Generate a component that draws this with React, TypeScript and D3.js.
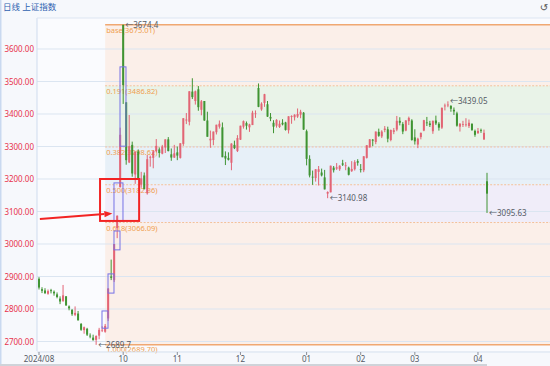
import React from 'react';
import * as d3 from 'd3';

const dates = [
  '2024-08-20','2024-08-21','2024-08-22','2024-08-23','2024-08-26','2024-08-27','2024-08-28','2024-08-29','2024-08-30',
  '2024-09-02','2024-09-03','2024-09-04','2024-09-05','2024-09-06','2024-09-09','2024-09-10','2024-09-11','2024-09-12','2024-09-13',
  '2024-09-18','2024-09-19','2024-09-20','2024-09-23','2024-09-24','2024-09-25','2024-09-26','2024-09-27','2024-09-30',
  '2024-10-08','2024-10-09','2024-10-10','2024-10-11','2024-10-14','2024-10-15','2024-10-16','2024-10-17','2024-10-18',
  '2024-10-21','2024-10-22','2024-10-23','2024-10-24','2024-10-25','2024-10-28','2024-10-29','2024-10-30','2024-10-31',
  '2024-11-01','2024-11-04','2024-11-05','2024-11-06','2024-11-07','2024-11-08','2024-11-11','2024-11-12','2024-11-13','2024-11-14','2024-11-15',
  '2024-11-18','2024-11-19','2024-11-20','2024-11-21','2024-11-22','2024-11-25','2024-11-26','2024-11-27','2024-11-28','2024-11-29',
  '2024-12-02','2024-12-03','2024-12-04','2024-12-05','2024-12-06','2024-12-09','2024-12-10','2024-12-11','2024-12-12','2024-12-13',
  '2024-12-16','2024-12-17','2024-12-18','2024-12-19','2024-12-20','2024-12-23','2024-12-24','2024-12-25','2024-12-26','2024-12-27',
  '2024-12-30','2024-12-31',
  '2025-01-02','2025-01-03','2025-01-06','2025-01-07','2025-01-08','2025-01-09','2025-01-10','2025-01-13','2025-01-14','2025-01-15',
  '2025-01-16','2025-01-17','2025-01-20','2025-01-21','2025-01-22','2025-01-23','2025-01-24','2025-01-27',
  '2025-02-05','2025-02-06','2025-02-07','2025-02-10','2025-02-11','2025-02-12','2025-02-13','2025-02-14','2025-02-17','2025-02-18',
  '2025-02-19','2025-02-20','2025-02-21','2025-02-24','2025-02-25','2025-02-26','2025-02-27','2025-02-28',
  '2025-03-03','2025-03-04','2025-03-05','2025-03-06','2025-03-07','2025-03-10','2025-03-11','2025-03-12','2025-03-13','2025-03-14',
  '2025-03-17','2025-03-18','2025-03-19','2025-03-20','2025-03-21','2025-03-24','2025-03-25','2025-03-26','2025-03-27','2025-03-28',
  '2025-03-31','2025-04-01','2025-04-02','2025-04-03','2025-04-07',
];

const opens = [
  2893,2861,2857,2847,2858,2853,2845,2832,2825,
  2839,2808,2797,2782,2786,2754,2735,2739,2718,2712,
  2705,2718,2734,2730,2771,2900,2889,3049,3175,
  3674.4,3436,3251,3305,3214,3285,3183,3211,3156,
  3266,3265,3286,3291,3278,3297,3322,3276,3266,
  3282,3265,3308,3380,3376,3469,3440,3476,3413,3440,3380,
  3319,3320,3344,3361,3359,3271,3265,3250,3305,3286,
  3321,3361,3372,3359,3366,3402,3480,3414,3434,3430,
  3391,3373,3364,3360,3373,3374,3350,3391,3390,3392,
  3398,3404,
  3347,3262,3207,3203,3222,3220,3205,3155,3159,3235,
  3232,3230,3248,3242,3235,3224,3230,3255,
  3230,3227,3265,3297,3321,3314,3345,3331,3351,3353,
  3320,3345,3352,3379,3369,3349,3378,3380,
  3328,3306,3329,3349,3374,3371,3347,3380,3370,3358,
  3425,3428,3425,3413,3402,3361,3367,3368,3363,3370,
  3348,3341,3351,3322,3193,
];

const highs = [
  2898,2867,2864,2860,2862,2857,2851,2839,2874,
  2840,2811,2800,2808,2794,2757,2746,2742,2725,2721,
  2719,2742,2747,2754,2864,2952,3000,3088,3358,
  3674.4,3436,3397,3315,3285,3291,3222,3220,3274,
  3272,3289,3323,3297,3305,3322,3329,3294,3305,
  3300,3310,3387,3403,3470,3510,3472,3486,3443,3440,3407,
  3349,3346,3367,3380,3374,3285,3282,3310,3318,3335,
  3364,3380,3377,3370,3410,3411,3494,3436,3462,3440,
  3403,3381,3384,3380,3384,3376,3393,3396,3399,3417,
  3413,3406,
  3352,3273,3226,3230,3240,3232,3228,3162,3241,3240,
  3249,3242,3259,3252,3238,3255,3258,3261,
  3246,3270,3304,3323,3323,3346,3355,3350,3363,3361,
  3352,3357,3394,3390,3375,3381,3392,3384,
  3353,3327,3343,3382,3391,3379,3380,3395,3375,3420,
  3432,3439.05,3427,3420,3407,3372,3379,3387,3383,3371,
  3352,3357,3355,3352,3219,
];

const lows = [
  2860,2849,2846,2844,2848,2841,2833,2815,2822,
  2810,2796,2779,2778,2765,2733,2724,2717,2710,2703,
  2689.7,2707,2729,2727,2763,2889,2883,3018,3174,
  3431,3244,3249,3207,3185,3200,3173,3168,3152,
  3238,3233,3282,3266,3276,3280,3285,3256,3265,
  3258,3263,3302,3369,3365,3446,3429,3410,3396,3379,3330,
  3296,3304,3337,3355,3267,3243,3257,3227,3292,3283,
  3320,3355,3352,3345,3366,3388,3421,3410,3422,3391,
  3378,3341,3358,3357,3365,3349,3340,3370,3380,3388,
  3387,3351,
  3242,3205,3182,3192,3180,3208,3168,3140.98,3159,3220,
  3228,3225,3240,3227,3211,3222,3226,3241,
  3220,3221,3263,3297,3301,3307,3330,3326,3344,3313,
  3316,3338,3347,3365,3338,3347,3366,3318,
  3306,3295,3322,3347,3363,3360,3339,3366,3349,3354,
  3411,3421,3407,3397,3361,3346,3360,3361,3357,3348,
  3330,3339,3342,3320,3095.63,
];

const closes = [
  2866,2856,2849,2855,2855,2848,2837,2823,2842,
  2811,2802,2784,2788,2765,2736,2744,2721,2717,2704,
  2717,2736,2736,2748,2863,2896,3000,3087,3336,
  3489,3258,3301,3217,3284,3202,3202,3169,3261,
  3268,3285,3302,3280,3300,3322,3286,3266,3279,
  3272,3310,3387,3383,3470,3452,3470,3421,3439,3380,3330,
  3324,3346,3367,3370,3267,3263,3259,3309,3295,3326,
  3364,3378,3364,3368,3404,3402,3422,3432,3461,3392,
  3386,3361,3382,3370,3368,3351,3393,3394,3398,3400,
  3407,3352,
  3262,3211,3206,3230,3230,3211,3168,3160,3241,3227,
  3236,3241,3244,3242,3213,3231,3252,3250,
  3229,3270,3304,3322,3318,3346,3333,3346,3355,3324,
  3351,3350,3379,3373,3346,3380,3388,3320,
  3316,3324,3342,3381,3372,3366,3379,3371,3358,3419,
  3426,3429,3416,3408,3364,3370,3369,3368,3373,3351,
  3336,3348,3350,3342,3155,
];

const yTicks = [2700, 2800, 2900, 3000, 3100, 3200, 3300, 3400, 3500, 3600];
const monthTickIdx = [0, 28, 46, 67, 89, 107, 125, 146];
const monthTickLabels = ['2024/08', '10', '11', '12', '01', '02', '03', '04'];

const fibStartIdx = 22;
const fibRatios = ['base', '0.191', '0.382', '0.500', '0.618', '1.000'];
const fibValues = [3675.01, 3486.82, 3298.62, 3182.36, 3066.09, 2689.70];
const fibBandColors = ['#fbefe9', '#e9f3e8', '#e7f0f8', '#f0edf9', '#fbefe9'];

const markIdx = [28, 19, 96, 136, 149];
const markValues = [3674.4, 2689.7, 3140.98, 3439.05, 3095.63];
const markLabels = ['3674.4', '2689.7', '3140.98', '3439.05', '3095.63'];

// blue boxes: index range and price range
const boxX0 = [20.95, 22.95, 24.94, 24.94, 26.94];
const boxX1 = [22.95, 24.94, 26.94, 27.93, 28.93];
const boxTop = [2794, 2908, 3040, 3188, 3545];
const boxBottom = [2741, 2849, 2982, 3071, 3301];

// red highlight box and arrow (index / price)
const redBoxIdx = [20.3, 33.3];
const redBoxPrice = [3200, 3071];
const arrowIdx = [0.3, 24.4];
const arrowPrice = [3077, 3094];

const W = 550, H = 366;
const left = 37, right = 550, top = 18, bottom = 351;
const UP = '#e25668';
const DOWN = '#2d8a1f';
const FONT = 'Noto Sans, "Noto Sans CJK SC", sans-serif';

export default function App() {
  const x = d3.scaleLinear().domain([0, dates.length - 1]).range([39, 487]);
  const y = d3.scaleLinear().domain([2670.8, 3695.4]).range([bottom, top]);

  const fibX = x(fibStartIdx);

  const ax0 = x(arrowIdx[0]), ay0 = y(arrowPrice[0]);
  const ax1 = x(arrowIdx[1]), ay1 = y(arrowPrice[1]);
  const ang = Math.atan2(ay1 - ay0, ax1 - ax0);
  const hl = 8, hw = 3.2;
  const bx = ax1 - hl * Math.cos(ang), by = ay1 - hl * Math.sin(ang);
  const head = [
    [ax1, ay1],
    [bx + hw * Math.sin(ang), by - hw * Math.cos(ang)],
    [bx - hw * Math.sin(ang), by + hw * Math.cos(ang)],
  ].map(p => p.join(',')).join(' ');

  return (
    <svg width={W} height={H} style={{ position: 'absolute', left: 0, top: 0, fontFamily: FONT }}>
      <defs>
        <clipPath id="plot">
          <rect x={left} y={top} width={right - left} height={bottom - top} />
        </clipPath>
      </defs>
      <rect width={W} height={H} fill="#f6f8fc" />
      <rect x={0} y={0} width={1.5} height={H} fill="#c9d9f0" />
      <rect x={left} y={top} width={right - left} height={bottom - top} fill="#fafbfe" />

      <g clipPath="url(#plot)">
        {fibBandColors.map((c, i) => (
          <rect key={i} x={fibX} y={y(fibValues[i])} width={right - fibX}
            height={y(fibValues[i + 1]) - y(fibValues[i])} fill={c} />
        ))}
        {yTicks.map(t => (
          <line key={t} x1={left} x2={right} y1={y(t)} y2={y(t)} stroke="#dbe5f1" strokeWidth={1} />
        ))}
        {fibValues.map((v, i) => {
          const solid = i === 0 || i === fibValues.length - 1;
          return (
            <line key={i} x1={fibX} x2={right} y1={y(v)} y2={y(v)}
              stroke={solid ? '#f0a872' : '#f3c09a'} strokeWidth={solid ? 1.5 : 1}
              strokeDasharray={solid ? undefined : '2,1.5'} />
          );
        })}
      </g>

      {fibValues.map((v, i) => (
        <text key={i} x={fibX + 1} y={Math.min(y(v) + 8.5, 352)} fontSize={7.5} fill="#f0a050">
          {fibRatios[i]}({v.toFixed(2)})
        </text>
      ))}

      <g clipPath="url(#plot)">
        {dates.map((d, i) => {
          const up = closes[i] >= opens[i];
          const c = up ? UP : DOWN;
          const yo = y(opens[i]), yc = y(closes[i]);
          const bt = Math.min(yo, yc);
          const bh = Math.max(0.8, Math.abs(yo - yc));
          return (
            <g key={d} opacity={0.9}>
              <line x1={x(i)} x2={x(i)} y1={y(highs[i])} y2={y(lows[i])} stroke={c} strokeWidth={1} />
              <rect x={x(i) - 1} y={bt} width={2} height={bh} fill={c} />
            </g>
          );
        })}

        {boxX0.map((b, i) => (
          <rect key={i} x={x(b)} y={y(boxTop[i])} width={x(boxX1[i]) - x(b)}
            height={y(boxBottom[i]) - y(boxTop[i])} fill="none" stroke="#7672e6" strokeWidth={1} />
        ))}

        {markIdx.map((m, i) => (
          <text key={i} x={x(m) + 2} y={y(markValues[i]) + 3} fontSize={8} fill="#555b66">
            {'←' + markLabels[i]}
          </text>
        ))}

        <rect x={x(redBoxIdx[0])} y={y(redBoxPrice[0])} width={x(redBoxIdx[1]) - x(redBoxIdx[0])}
          height={y(redBoxPrice[1]) - y(redBoxPrice[0])} fill="none" stroke="#f22424" strokeWidth={2} />
      </g>

      <line x1={ax0} y1={ay0} x2={bx} y2={by} stroke="#f22424" strokeWidth={2} />
      <polygon points={head} fill="#f22424" />

      <line x1={left} x2={left} y1={top} y2={bottom} stroke="#cfdcee" />
      <line x1={left} x2={right} y1={top} y2={top} stroke="#dde6f2" />
      <line x1={left} x2={right} y1={bottom + 1} y2={bottom + 1} stroke="#d6e1ef" />

      {yTicks.map(t => (
        <text key={t} x={34} y={y(t) + 3} fontSize={8} fill="#e8324c" textAnchor="end">
          {t.toFixed(2)}
        </text>
      ))}

      {monthTickIdx.map((m, i) => (
        <g key={m}>
          <line x1={x(m)} x2={x(m)} y1={bottom + 1} y2={bottom + 4} stroke="#8a8f99" />
          <text x={x(m)} y={362} fontSize={8} fill="#555b66" textAnchor="middle">
            {monthTickLabels[i]}
          </text>
        </g>
      ))}

      <rect x={0} y={364} width={487} height={2} fill="#cfd3d9" />

      <text x={3} y={10} fontSize={8.5} fill="#2f62b0">日线 上证指数</text>
      <text x={544} y={11} fontSize={10} fill="#555" textAnchor="middle" fontFamily="DejaVu Sans">↺</text>
    </svg>
  );
}
